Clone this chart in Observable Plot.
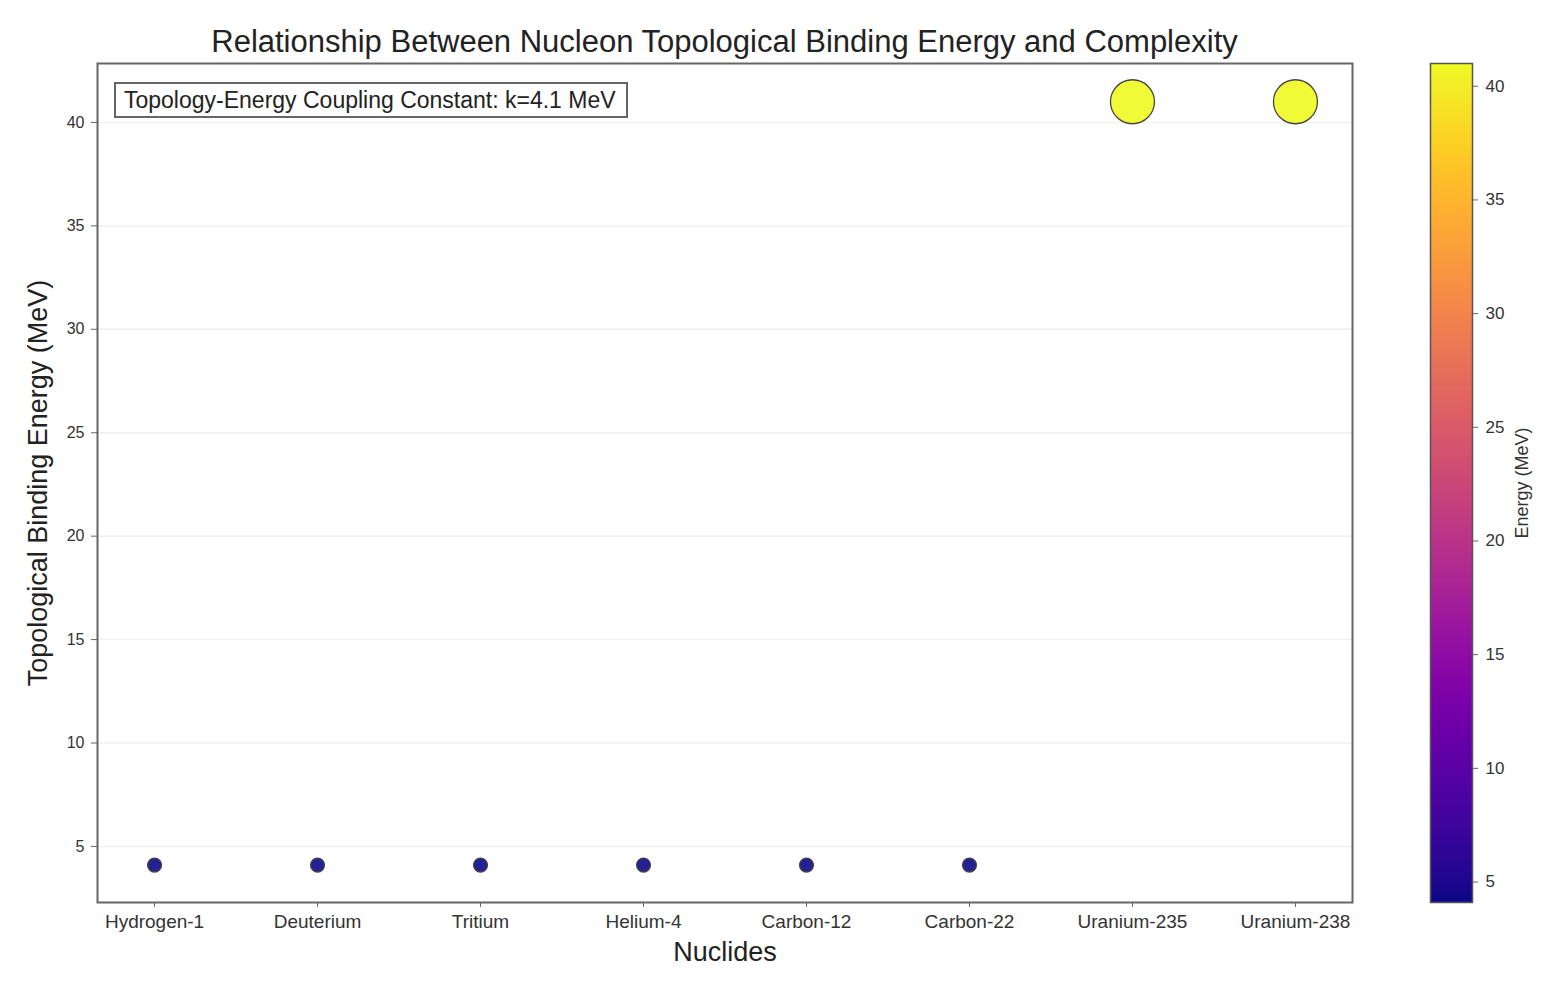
<!DOCTYPE html>
<html>
<head>
<meta charset="utf-8">
<script src="https://cdn.jsdelivr.net/npm/d3@7"></script>
<script src="https://cdn.jsdelivr.net/npm/@observablehq/plot@0.6"></script>
<style>
  html, body { margin: 0; padding: 0; background: #fff; }
  body { font-family: "Liberation Sans", Arial, sans-serif; color: #222; }
  #wrap { position: relative; width: 1561px; height: 995px; overflow: hidden; }
  #title { position: absolute; left: 0; top: 24px; width: 1449px; text-align: center; font-size: 31px; line-height: 36px; color: #222; }
  #note { position: absolute; left: 114px; top: 82px; width: 502px; height: 32px; border: 2px solid #666; background: #fff;
          font-size: 23px; line-height: 32px; padding-left: 8px; color: #222; white-space: nowrap; }
  #main { position: absolute; left: 0; top: 0; }
  #cbar { position: absolute; left: 1400px; top: 0; }
</style>
</head>
<body>
<div id="wrap">
  <div id="main"></div>
  <div id="cbar"></div>
  <div id="title">Relationship Between Nucleon Topological Binding Energy and Complexity</div>
  <div id="note">Topology-Energy Coupling Constant: k=4.1 MeV</div>
</div>
<script>
// ---- data ----
const nuclides = ["Hydrogen-1", "Deuterium", "Tritium", "Helium-4", "Carbon-12", "Carbon-22", "Uranium-235", "Uranium-238"];
const energy = [4.1, 4.1, 4.1, 4.1, 4.1, 4.1, 41, 41];
const complexity = [1, 1, 1, 1, 1, 1, 10, 10];
const yTicks = [5, 10, 15, 20, 25, 30, 35, 40];
const cbTicks = [5, 10, 15, 20, 25, 30, 35, 40];

const data = nuclides.map((n, i) => ({nuclide: n, energy: energy[i], complexity: complexity[i]}));
const font = "Liberation Sans, Arial, sans-serif";

const main = Plot.plot({
  width: 1561, height: 995,
  marginLeft: 97, marginRight: 209, marginTop: 63, marginBottom: 93,
  style: {fontFamily: font, color: "#333", background: "transparent"},
  x: {type: "point", domain: nuclides, padding: 0.35, round: false},
  y: {domain: [2.29, 42.85]},
  color: {type: "linear", scheme: "plasma", domain: [4.1, 41]},
  r: {type: "sqrt", domain: [0, 10], range: [0, 22]},
  marks: [
    Plot.gridY(yTicks, {stroke: "#e6e6e6", strokeOpacity: 0.6, strokeWidth: 1.5}),
    Plot.frame({stroke: "#666", strokeWidth: 2}),
    Plot.axisY(yTicks, {tickSize: 6, tickPadding: 7, fontSize: 16, label: null, stroke: "#666"}),
    Plot.axisX({tickSize: 5, tickPadding: 7, fontSize: 19, label: null, stroke: "#666"}),
    Plot.dot(data, {x: "nuclide", y: "energy", r: "complexity", fill: "energy", fillOpacity: 0.9,
                    stroke: "#444", strokeWidth: 1.3}),
    Plot.text(["Topological Binding Energy (MeV)"], {text: d => d, frameAnchor: "left", textAnchor: "middle", lineAnchor: "middle",
                    dx: -59, rotate: -90, fontSize: 27, fill: "#222"}),
    Plot.text(["Nuclides"], {text: d => d, frameAnchor: "bottom", textAnchor: "middle", lineAnchor: "middle",
                    dy: 50, fontSize: 27, fill: "#222"})
  ]
});
document.getElementById("main").appendChild(main);

const cbar = Plot.plot({
  width: 161, height: 995,
  marginLeft: 30, marginRight: 89, marginTop: 63, marginBottom: 93,
  style: {fontFamily: font, color: "#333", background: "transparent"},
  x: {domain: [0, 1], axis: null},
  y: {domain: [4.1, 41], axis: null},
  color: {type: "linear", scheme: "plasma", domain: [4.1, 41]},
  marks: [
    Plot.raster({x1: 0, x2: 1, y1: 4.1, y2: 41, width: 1, height: 400, fill: (x, y) => y, imageRendering: "auto"}),
    Plot.frame({stroke: "#555", strokeWidth: 1.5}),
    Plot.axisY(cbTicks, {anchor: "right", tickSize: 5, tickPadding: 8, fontSize: 17, label: null, stroke: "#666"}),
    Plot.text(["Energy (MeV)"], {text: d => d, frameAnchor: "right", textAnchor: "middle", lineAnchor: "middle",
                    dx: 50, rotate: -90, fontSize: 18, fill: "#333"})
  ]
});
document.getElementById("cbar").appendChild(cbar);
</script>
</body>
</html>
